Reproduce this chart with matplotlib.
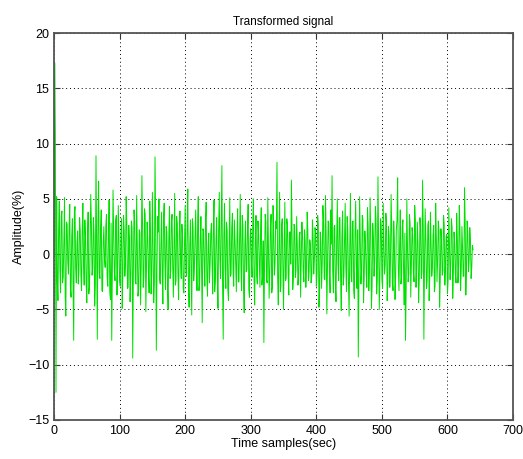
import matplotlib
matplotlib.use("Agg")
import matplotlib.pyplot as plt
import numpy as np

# amplitude: even samples (0, 2, 4, ...)
amp_even = [
    0.0, 11.0, 5.2, -4.2, 4.8, -3.5, 3.9, -2.1, 5.1, -5.6, 2.7, -1.8, 4.5, -3.9, 3.2, -7.8, 4.3, -2.6, 2.1, -1.4,
    2.1, -3.3, 4.6, -2.8, 1.5, -4.4, 3.8, -3.0, 5.4, -1.9, 3.3, -4.7, 8.9, -7.7, 6.6, -2.2, 4.0, -3.4, 2.5, -1.2,
    3.6, -2.9, 4.9, -4.1, -7.8, 5.8, -1.6, 3.1, -3.7, 4.4, -2.3, 1.8, -4.9, 3.5, -2.0, 5.2, -3.1, 2.6, -4.3, 3.0,
    -9.4, 4.0, -2.5, 5.3, -3.8, 2.2, -4.6, 7.1, -3.0, 4.1, -5.2, 2.9, -1.7, 4.8, -3.6, 5.6, -4.4, 8.8, -8.7, 3.4,
    5.0, -2.7, 3.8, -4.5, 4.6, -3.2, 2.0, -5.0, 4.3, -1.5, 3.6, -3.9, 5.5, -2.4, 2.7, -4.1, 3.9, -2.2, 1.6, -3.5,
    4.4, -2.0, 5.9, -4.8, 3.1, -5.5, 2.5, -1.3, 4.0, -3.3, 5.2, -2.6, 3.4, -6.2, 2.1, -2.9, 4.7, -3.8, 1.9, -1.0,
    2.8, -3.6, 4.9, -2.4, 3.3, -4.9, 5.6, -2.2, 8.0, -7.7, 4.6, -3.1, 2.2, -4.2, 5.1, -1.8, 3.7, -2.9, 1.2, -3.4,
    4.1, -2.5, 5.4, -3.3, 2.6, -5.3, 3.0, -1.4, 4.5, -3.9, 2.3, -2.1, 5.0, -4.6, 3.5, -2.7, 1.8, -3.0, 4.2, -2.0,
    -8.0, 3.6, -2.3, 5.1, -4.0, 2.4, -3.5, 4.4, -1.9, 3.0, 8.3, -4.6, 5.6, -2.8, 3.2, -5.0, 4.7, -2.2, 2.6, -3.7,
    2.0, 6.7, -3.2, 2.7, -2.1, 3.4, -2.8, 1.6, -3.9, 2.9, -1.5, 2.2, -3.0, 3.8, -2.4, 1.3, -2.6, 3.1, -1.8, 2.4,
    -2.9, 3.5, -4.8, 2.0, -3.1, 4.4, -2.2, 5.3, -5.4, 3.0, -1.7, 4.0, 7.1, -3.5, 2.6, -4.3, 5.0, -2.4, 3.3, -5.1,
    3.9, -2.0, 4.6, -3.4, 2.2, -5.6, 5.5, -2.5, 3.0, -4.0, 4.8, -3.1, -9.3, 5.2, -2.7, 3.5, -4.4, 2.1, -1.6, 4.2,
    -3.3, 5.1, -4.9, 2.8, -2.0, 4.3, -3.6, 7.0, -5.0, 3.2, -2.3, 4.6, -1.8, 3.7, -4.2, 2.5, -3.0, 5.4, -2.6, 3.0,
    -4.1, 2.2, 6.9, -3.3, 4.0, -2.1, 3.1, -4.6, -7.8, 5.0, -2.5, 3.6, -3.9, 2.4, -1.7, 4.4, -3.0, 2.9, -4.4, 3.3,
    -2.2, 6.7, -7.7, 4.1, -3.1, 2.6, -4.2, 3.8, -2.0, 1.7, -3.4, 4.6, -2.5, 3.0, -4.8, 2.3, -1.9, 3.5, -2.8, 1.6,
    -3.6, 4.2, -2.3, 3.2, -4.0, 2.0, -1.8, 3.7, -2.6, 4.4, -3.3, 2.5, -2.0, 6.0, -3.7, 3.0, -1.6, 2.4, -2.2, 0.8,
]
# odd samples (1, 3, 5, ...)
amp_odd = [
    17.3, -12.5, -2.4, 2.2, -1.5, 3.4, -2.6, 1.1, -3.8, 2.9, -0.7, 2.4, -3.1, 1.6, -2.2, 3.7, -1.3, 0.9, -2.7, 3.3,
    -1.9, 2.0, -0.8, 3.1, -2.5, 1.4, -3.6, 0.6, 2.7, -1.2, 1.9, -2.8, 0.4, 3.0, -1.7, 2.3, -3.3, 1.0, -0.5, 2.6,
    -2.1, 1.5, -3.4, 2.8, -0.9, 1.7, -2.4, 3.5, -1.1, 0.8, -2.9, 3.2, -1.6, 2.1, -0.6, 2.9, -3.0, 1.2, -1.8, 2.4,
    -1.4, 3.0, -2.7, 0.7, -3.2, 1.9, -1.0, 2.6, -2.0, 3.6, -0.8, 1.3, -3.5, 2.2, -1.5, 0.5, -2.6, 3.1, -1.2, 2.0,
    -2.3, 0.9, -1.7, 3.3, -0.6, 2.5, -3.0, 1.4, -2.2, 2.9, -1.1, 0.6, -2.8, 3.4, -1.9, 1.8, -0.7, 2.7, -3.1, 1.0,
    -1.6, 2.4, -2.9, 0.8, -1.3, 3.2, -2.4, 1.5, -0.4, 2.8, -3.3, 1.1, -1.8, 2.3, -0.9, 3.0, -2.1, 0.7, -2.6, 1.9,
    -0.8, 2.6, -3.4, 1.3, -1.9, 2.1, -0.5, 3.3, -2.7, 1.6, -1.2, 2.9, -3.1, 0.6, -2.0, 2.4, -1.4, 3.1, -0.7, 1.5,
    -2.5, 1.8, -1.0, 3.5, -2.9, 0.9, -1.6, 2.2, -3.2, 1.4, -0.6, 2.7, -2.3, 1.0, -1.9, 3.0, -0.8, 2.1, -2.8, 1.2,
    -1.1, 2.9, -2.6, 0.7, -1.5, 3.6, -3.0, 1.7, -0.9, 2.3, -2.1, 1.0, -3.4, 2.6, -1.3, 0.8, -2.4, 3.2, -1.7, 2.0,
    -0.9, 1.6, -2.2, 2.5, -1.4, 0.7, -1.8, 2.0, -0.6, 1.5, -2.5, 1.2, -1.0, 2.2, -1.6, 0.8, -2.0, 1.7, -0.5, 1.9,
    -1.8, 2.7, -3.2, 1.1, -0.7, 3.0, -2.3, 1.6, -1.2, 2.8, -3.5, 0.9, -1.5, 2.4, -2.7, 1.3, -0.8, 3.3, -2.0, 1.5,
    -2.8, 1.2, -1.1, 3.4, -2.5, 0.6, -1.9, 2.9, -3.3, 1.8, -0.9, 2.2, -2.6, 1.0, -1.4, 3.1, -2.0, 0.8, -3.0, 2.5,
    -1.3, 2.0, -2.9, 1.5, -0.6, 3.2, -2.2, 1.1, -1.7, 2.6, -3.1, 0.7, -1.0, 2.9, -2.4, 1.6, -0.8, 2.3, -3.3, 1.2,
    -2.0, 3.1, -1.2, 0.8, -2.7, 2.4, -1.5, 1.9, -3.0, 0.6, -1.8, 2.8, -0.9, 1.7, -2.5, 3.0, -1.1, 0.9, -2.1, 2.2,
    -1.6, 2.5, -0.7, 1.3, -2.4, 3.0, -1.9, 0.8, -1.2, 2.6, -2.9, 1.4, -0.5, 2.1, -2.2, 1.0, -1.5, 2.7, -0.9, 1.8,
    -2.3, 1.2, -0.8, 2.4, -1.7, 0.9, -2.6, 1.5, -1.0, 2.2, -1.4, 0.6, -2.0, 2.8, -1.1, 1.7, -0.6, 1.3, -1.2, 0.4,
]

amp = np.empty(len(amp_even) + len(amp_odd))
amp[0::2] = amp_even
amp[1::2] = amp_odd
t = np.arange(len(amp))

xticks = [0, 100, 200, 300, 400, 500, 600, 700]
yticks = [-15, -10, -5, 0, 5, 10, 15, 20]

plt.rcParams['font.family'] = ['Liberation Sans', 'DejaVu Sans']

fig = plt.figure(figsize=(5.23, 4.59), dpi=100)
ax = fig.add_axes([0.1033, 0.085, 0.8777, 0.843])

ax.plot(t, amp, color='#00e000', lw=0.7)

ax.set_xlim(0, 700)
ax.set_ylim(-15, 20)
ax.set_xticks(xticks)
ax.set_yticks(yticks)
ax.tick_params(direction='in', top=True, right=True, labelsize=9, length=4, color='#333333')
ax.grid(color='k', linestyle=(0, (1, 3)), linewidth=0.7)
for s in ax.spines.values():
    s.set_color('#555555')
    s.set_linewidth(1.3)

ax.set_title('Transformed signal', fontsize=8.5, pad=6)
ax.set_xlabel('Time samples(sec)', fontsize=9, labelpad=1)
ax.set_ylabel('Amplitude(%)', fontsize=9, labelpad=2)

fig.savefig('out.png', dpi=100)
